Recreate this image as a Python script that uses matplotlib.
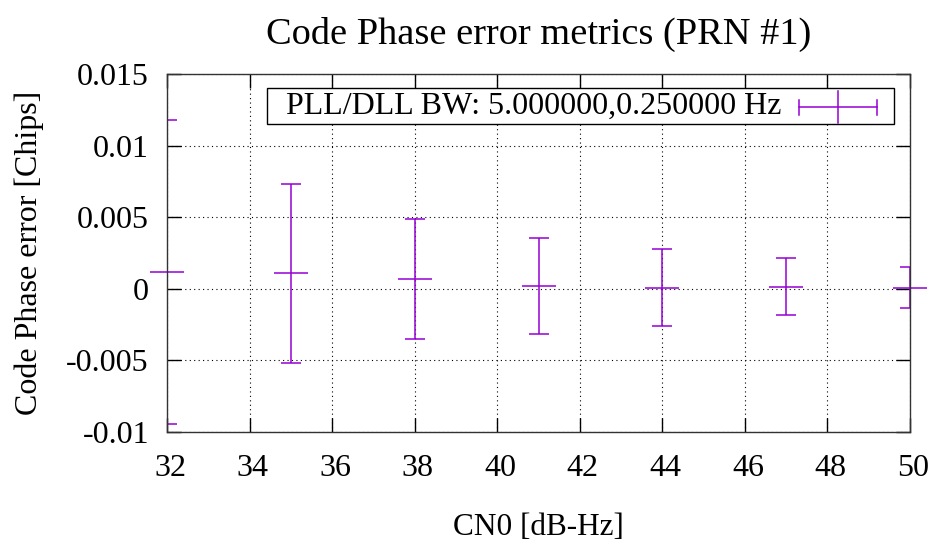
import numpy as np
import matplotlib
matplotlib.use('Agg')
import matplotlib.pyplot as plt
import matplotlib.transforms as mtransforms
from matplotlib.legend_handler import HandlerBase
from matplotlib.lines import Line2D

# data
cn0 = [32, 35, 38, 41, 44, 47, 50]
err_mean = [0.00117, 0.00108, 0.00068, 0.00022, 0.00008, 0.00015, 0.00008]
err_std = [0.0106, 0.00625, 0.00418, 0.00336, 0.00267, 0.00198, 0.00141]
xticks = [32, 34, 36, 38, 40, 42, 44, 46, 48, 50]
yticks = [-0.01, -0.005, 0, 0.005, 0.01, 0.015]
ytick_labels = ['-0.01', '-0.005', '0', '0.005', '0.01', '0.015']
label = '  PLL/DLL BW: 5.000000,0.250000 Hz'
purple = '#9400d3'

plt.rcParams['font.family'] = ['Liberation Serif', 'DejaVu Serif']
plt.rcParams['font.size'] = 23


class HandlerGnuErr(HandlerBase):
    # gnuplot style key sample: horizontal bar with end caps, tall mark in middle
    def create_artists(self, legend, orig_handle, xdescent, ydescent,
                       width, height, fontsize, trans):
        y = (height - ydescent) / 2.0 - 3.6
        x0 = -xdescent
        x1 = x0 + 56
        xm = (x0 + x1) / 2
        kw = dict(color=purple, lw=1.1, transform=trans)
        return [Line2D([x0, x1], [y, y], **kw),
                Line2D([x0, x0], [y - 5.4, y + 5.4], **kw),
                Line2D([x1, x1], [y - 5.4, y + 5.4], **kw),
                Line2D([xm, xm], [y - 11.5, y + 11.5], **kw)]


fig = plt.figure(figsize=(9.32, 5.42), dpi=100)
ax = fig.add_axes([167/932, 1-432/542, (910-167)/932, (432-74)/542])

ax.errorbar(cn0, err_mean, yerr=err_std, fmt='none', ecolor=purple,
            elinewidth=1.1, capsize=7, capthick=1.1)
ax.plot(cn0, err_mean, ls='none', marker='_', ms=24, mew=1.1,
        color=purple, clip_on=False)

ax.set_xlim(32, 50)
ax.set_ylim(-0.01, 0.015)
ax.set_xticks(xticks)
ax.set_yticks(yticks)
ax.set_yticklabels(ytick_labels)
ax.tick_params(direction='in', length=10, width=1, top=True, right=True)
ax.tick_params(axis='x', pad=16)
ax.tick_params(axis='y', pad=13)
shift = mtransforms.ScaledTranslation(3/100, 0, fig.dpi_scale_trans)
for t in ax.get_xticklabels():
    t.set_transform(t.get_transform() + shift)
ax.grid(True, color='black', linestyle=(0, (1, 3)), linewidth=0.8)
for s in ax.spines.values():
    s.set_linewidth(1)
    s.set_color('#333333')

ax.set_title('Code Phase error metrics (PRN #1)', pad=22)
ax.set_xlabel('CN0 [dB-Hz]', fontsize=22.5)
ax.set_ylabel('Code Phase error [Chips]')
ax.xaxis.set_label_coords(0.5, -0.225)
ax.yaxis.set_label_coords(-0.166, 0.5)

h = Line2D([], [])
leg = ax.legend([h], [label], handler_map={h: HandlerGnuErr()},
                loc='upper right', bbox_to_anchor=(894/932, 1-88/542),
                bbox_transform=fig.transFigure, borderaxespad=0,
                borderpad=0.1, handlelength=2.88, handletextpad=0.55,
                markerfirst=False, fancybox=False, framealpha=1,
                edgecolor='black')
leg.get_frame().set_linewidth(1)

fig.savefig('out.png', dpi=100)
